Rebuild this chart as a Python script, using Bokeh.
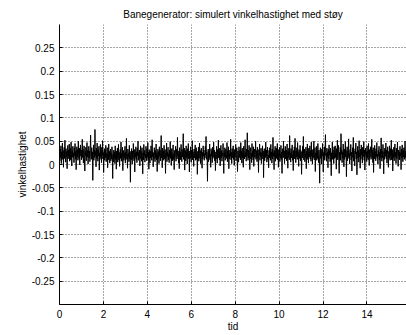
import numpy as np
from bokeh.plotting import figure
from bokeh.models import Range1d, FixedTicker, CustomJSTickFormatter
from bokeh.embed import file_html
from bokeh.resources import INLINE

title_text = "Banegenerator: simulert vinkelhastighet med støy"
x_label = "tid"
y_label = "vinkelhastighet"
x_ticks = [0, 2, 4, 6, 8, 10, 12, 14]
y_ticks = [-0.25, -0.2, -0.15, -0.1, -0.05, 0, 0.05, 0.1, 0.15, 0.2, 0.25]
t_start = 0.0
t_end = 15.8

omega = [
    0.021, 0.008, 0.033, 0.015, 0.040, 0.002, 0.027, 0.019, 0.046, 0.011, 0.030, -0.006, 0.024, 0.037, 0.013, 0.052, 0.020, 0.005, 0.034, 0.016,
    0.028, -0.009, 0.023, 0.041, 0.012, 0.031, 0.018, 0.044, 0.007, 0.026, 0.035, 0.010, 0.048, 0.022, -0.003, 0.030, 0.017, 0.039, 0.014, 0.025,
    0.004, 0.036, 0.019, 0.045, 0.011, 0.029, -0.011, 0.024, 0.038, 0.016, 0.032, 0.009, 0.050, 0.021, 0.013, 0.035, -0.001, 0.027, 0.042, 0.018,
    0.031, 0.010, 0.025, 0.054, 0.015, 0.033, 0.003, 0.022, 0.040, 0.012, -0.014, 0.028, 0.019, 0.037, 0.008, 0.026, 0.047, 0.016, 0.030, 0.001,
    0.024, 0.039, 0.014, 0.029, 0.006, 0.034, 0.063, 0.020, 0.011, 0.036, 0.017, 0.027, -0.034, 0.023, 0.042, 0.009, 0.031, 0.015, 0.075, 0.019,
    0.028, -0.005, 0.035, 0.013, 0.046, 0.021, 0.007, 0.032, 0.018, 0.039, -0.012, 0.025, 0.011, 0.043, 0.016, 0.029, 0.004, 0.037, 0.020, 0.051,
    0.012, 0.026, -0.017, 0.022, 0.034, 0.009, 0.030, 0.015, 0.041, 0.006, 0.024, 0.018, 0.036, -0.007, 0.021, 0.010, 0.044, 0.017, 0.028, 0.003,
    0.019, 0.033, 0.008, 0.025, 0.012, 0.038, 0.016, -0.030, 0.022, 0.006, 0.031, 0.014, 0.027, 0.002, 0.040, 0.011, 0.020, -0.010, 0.029, 0.015,
    0.035, 0.005, 0.018, 0.043, 0.010, 0.026, -0.004, 0.021, 0.032, 0.013, 0.048, 0.007, 0.023, 0.016, 0.037, -0.013, 0.019, 0.030, 0.009, 0.024,
    0.014, 0.039, 0.003, 0.027, 0.017, 0.056, 0.011, 0.022, -0.008, 0.033, 0.015, 0.025, 0.006, 0.041, 0.012, 0.020, -0.038, 0.028, 0.010, 0.034,
    0.018, 0.001, 0.029, 0.013, 0.045, 0.021, 0.008, 0.032, -0.016, 0.024, 0.016, 0.038, 0.011, 0.027, 0.004, 0.035, 0.019, 0.050, 0.009, 0.026,
    0.015, 0.031, -0.003, 0.022, 0.040, 0.012, 0.028, 0.007, 0.036, 0.017, -0.020, 0.025, 0.010, 0.043, 0.019, 0.030, 0.005, 0.023, 0.014, 0.039,
    0.021, 0.008, 0.034, 0.016, 0.047, 0.011, 0.026, -0.010, 0.032, 0.018, 0.003, 0.029, 0.014, 0.040, 0.022, 0.009, 0.053, 0.017, 0.027, -0.005,
    0.024, 0.012, 0.036, 0.019, 0.006, 0.030, 0.015, 0.044, 0.010, 0.025, -0.015, 0.021, 0.033, 0.013, 0.028, 0.002, 0.038, 0.018, 0.031, 0.008,
    0.026, 0.062, 0.014, 0.022, -0.007, 0.035, 0.017, 0.029, 0.009, 0.041, 0.020, 0.012, 0.032, -0.019, 0.024, 0.015, 0.046, 0.006, 0.027, 0.018,
    0.037, 0.010, 0.023, 0.004, 0.031, 0.016, 0.049, 0.013, 0.026, -0.002, 0.034, 0.019, 0.008, 0.028, 0.042, 0.011, 0.022, -0.011, 0.030, 0.015,
    0.025, 0.039, 0.007, 0.020, 0.033, 0.012, 0.058, 0.018, 0.029, 0.003, 0.024, -0.009, 0.036, 0.014, 0.027, 0.010, 0.043, 0.021, 0.006, 0.032,
    0.016, 0.028, 0.066, 0.011, 0.023, 0.035, -0.012, 0.019, 0.030, 0.008, 0.040, 0.015, 0.026, 0.001, 0.034, 0.017, 0.045, 0.012, 0.024, -0.016,
    0.029, 0.013, 0.038, 0.020, 0.005, 0.031, 0.016, 0.051, 0.010, 0.027, 0.018, -0.004, 0.033, 0.014, 0.025, 0.042, 0.009, 0.022, 0.036, 0.011,
    0.019, -0.021, 0.028, 0.015, 0.037, 0.007, 0.024, 0.046, 0.013, 0.030, 0.002, 0.021, 0.035, 0.016, -0.008, 0.026, 0.012, 0.040, 0.018, 0.031,
    0.009, 0.023, 0.014, 0.039, 0.020, 0.060, 0.011, 0.027, 0.017, -0.036, 0.025, 0.033, 0.006, 0.029, 0.015, 0.044, 0.010, 0.022, -0.006, 0.034,
    0.018, 0.028, 0.004, 0.037, 0.013, 0.024, 0.048, 0.016, 0.031, 0.008, 0.020, -0.013, 0.027, 0.012, 0.039, 0.021, 0.003, 0.032, 0.017, 0.052,
    0.014, 0.026, 0.010, 0.035, -0.003, 0.022, 0.041, 0.015, 0.030, 0.007, 0.024, 0.019, 0.045, 0.011, -0.019, 0.028, 0.016, 0.036, 0.009, 0.025,
    0.033, 0.013, 0.021, 0.047, 0.006, 0.029, 0.018, 0.038, -0.009, 0.023, 0.012, 0.031, 0.017, 0.054, 0.010, 0.026, 0.002, 0.034, 0.020, 0.014,
    0.040, 0.011, 0.027, -0.002, 0.032, 0.016, 0.025, 0.043, 0.008, 0.021, 0.036, 0.013, -0.015, 0.029, 0.019, 0.005, 0.038, 0.015, 0.024, 0.031,
    0.010, 0.047, 0.017, 0.028, 0.003, 0.035, 0.014, 0.022, -0.006, 0.039, 0.020, 0.012, 0.030, 0.053, 0.016, 0.026, 0.007, 0.033, 0.018, 0.068,
    0.022, 0.009, 0.031, 0.014, 0.041, 0.019, -0.011, 0.027, 0.036, 0.012, 0.024, 0.004, 0.045, 0.017, 0.029, 0.010, 0.038, -0.004, 0.021, 0.033,
    0.015, 0.026, 0.050, 0.011, 0.030, 0.018, 0.006, 0.037, 0.013, 0.023, -0.017, 0.032, 0.020, 0.044, 0.009, 0.027, 0.016, 0.035, 0.002, 0.025,
    0.019, 0.040, 0.012, 0.029, -0.028, 0.022, 0.034, 0.008, 0.026, 0.015, 0.048, 0.018, 0.031, 0.005, 0.024, 0.037, 0.011, 0.020, -0.007, 0.030,
    0.014, 0.036, 0.021, 0.009, 0.043, 0.017, 0.027, 0.003, 0.033, 0.012, 0.058, 0.019, 0.025, -0.011, 0.030, 0.016, 0.039, 0.007, 0.022, 0.035,
    0.013, 0.028, 0.045, 0.010, 0.024, -0.006, 0.032, 0.018, 0.037, 0.006, 0.021, 0.015, 0.041, 0.011, 0.027, -0.019, 0.023, 0.034, 0.014, 0.050,
    0.017, 0.029, 0.002, 0.026, 0.039, 0.012, 0.022, 0.031, 0.008, 0.044, 0.019, -0.008, 0.028, 0.015, 0.035, 0.010, 0.062, 0.020, 0.025, 0.005,
    0.034, 0.014, 0.027, 0.042, 0.009, 0.021, -0.013, 0.030, 0.017, 0.038, 0.012, 0.056, 0.023, 0.004, 0.029, 0.016, 0.036, 0.011, 0.047, 0.019,
    0.026, -0.004, 0.032, 0.013, 0.024, 0.041, 0.008, 0.030, 0.018, -0.021, 0.027, 0.014, 0.039, 0.020, 0.060, 0.010, 0.025, 0.033, 0.006, 0.022,
    0.015, 0.037, -0.009, 0.028, 0.019, 0.044, 0.011, 0.026, 0.003, 0.035, 0.016, 0.023, 0.040, 0.012, 0.030, 0.007, 0.048, 0.018, 0.024, 0.001,
    0.032, 0.014, 0.027, 0.050, 0.010, 0.021, 0.036, -0.015, 0.025, 0.017, 0.039, 0.009, 0.029, 0.013, 0.045, 0.020, 0.004, 0.031, 0.016, -0.040,
    0.022, 0.036, 0.013, 0.028, 0.001, 0.033, 0.018, 0.045, 0.011, -0.016, 0.026, 0.015, 0.038, 0.009, 0.030, 0.064, 0.019, 0.024, 0.007, 0.035,
    0.016, 0.027, -0.007, 0.033, 0.012, 0.042, 0.020, 0.029, 0.006, 0.035, 0.014, -0.024, 0.025, 0.017, 0.048, 0.011, 0.031, 0.019, 0.002, 0.038,
    0.013, 0.026, 0.040, 0.015, 0.023, -0.010, 0.034, 0.018, 0.052, 0.010, 0.028, 0.041, 0.012, -0.019, 0.026, 0.018, 0.037, 0.009, 0.066, 0.022,
    0.031, 0.004, 0.027, 0.014, 0.044, 0.019, -0.005, 0.033, 0.011, 0.025, 0.049, 0.016, 0.030, -0.026, 0.021, 0.038, 0.008, 0.028, 0.017, 0.055,
    0.013, 0.024, 0.001, 0.032, 0.019, 0.043, 0.010, 0.026, -0.014, 0.021, 0.036, 0.015, 0.058, 0.007, 0.029, 0.018, -0.003, 0.034, 0.023, 0.046,
    0.012, 0.027, -0.022, 0.020, 0.039, 0.014, 0.030, 0.005, 0.051, 0.017, 0.025, -0.008, 0.033, 0.011, 0.042, 0.020, 0.028, 0.003, 0.037, 0.016,
    0.024, 0.049, 0.009, 0.031, -0.012, 0.022, 0.035, 0.018, 0.027, 0.006, 0.040, 0.014, 0.029, 0.010, 0.045, 0.021, -0.002, 0.032, 0.016, 0.026,
    0.038, 0.011, 0.023, 0.054, 0.015, 0.030, 0.004, 0.036, -0.017, 0.025, 0.012, 0.041, 0.019, 0.028, 0.008, 0.034, 0.017, 0.047, 0.013, 0.022,
    0.001, 0.030, 0.018, 0.039, 0.010, 0.026, -0.009, 0.033, 0.015, 0.057, 0.021, 0.007, 0.029, 0.014, 0.043, 0.019, -0.020, 0.027, 0.011, 0.035,
    0.017, 0.024, 0.046, 0.012, 0.031, 0.003, 0.022, 0.038, 0.016, -0.006, 0.028, 0.013, 0.040, 0.020, 0.009, 0.034, 0.018, 0.052, 0.010, 0.025,
    0.032, -0.014, 0.023, 0.015, 0.037, 0.008, 0.029, 0.044, 0.017, 0.026, 0.002, 0.035, 0.012, 0.021, 0.048, 0.016, -0.004, 0.031, 0.019, 0.027,
    0.010, 0.039, 0.018, 0.025, -0.011, 0.033, 0.014, 0.042, 0.020, 0.006, 0.030, 0.016, 0.036, 0.011, 0.024, 0.050, 0.015, 0.028, 0.008, 0.034,
]

t = np.linspace(t_start, t_end, len(omega))

FONT = "Liberation Sans"

p = figure(width=406, height=335, output_backend="svg", toolbar_location=None,
           x_range=Range1d(0, 15.8), y_range=Range1d(-0.3, 0.3),
           min_border_left=59, min_border_right=0, min_border_top=24, min_border_bottom=31)

p.title.text = title_text
p.title.align = "center"
p.title.text_font = FONT
p.title.text_font_size = "10px"
p.title.text_font_style = "normal"
p.title.text_color = "black"

p.outline_line_color = None
p.background_fill_color = "white"
p.border_fill_color = "white"

p.line(t, omega, line_color="black", line_width=1.0)

p.xaxis.ticker = FixedTicker(ticks=x_ticks)
p.yaxis.ticker = FixedTicker(ticks=y_ticks)
p.yaxis.formatter = CustomJSTickFormatter(code="return String(Math.round(tick*100)/100);")
p.xaxis.formatter = CustomJSTickFormatter(code="return String(Math.round(tick));")

p.xaxis.axis_label = x_label
p.yaxis.axis_label = y_label

for ax in (p.xaxis, p.yaxis):
    ax.axis_line_color = "black"
    ax.major_tick_line_color = "black"
    ax.major_tick_in = 3
    ax.major_tick_out = 0
    ax.minor_tick_line_color = None
    ax.major_label_text_font = FONT
    ax.major_label_text_font_size = "10px"
    ax.major_label_text_color = "black"
    ax.axis_label_text_font = FONT
    ax.axis_label_text_font_size = "10px"
    ax.axis_label_text_font_style = "normal"
    ax.axis_label_text_color = "black"
    ax.major_label_standoff = 5

p.xaxis.axis_label_standoff = 0
p.yaxis.axis_label_standoff = 1

for g in (p.xgrid, p.ygrid):
    g.grid_line_color = "black"
    g.grid_line_alpha = 0.7
    g.grid_line_dash = "1 2"
    g.grid_line_width = 1

open("out.html", "w").write(file_html(p, INLINE))
